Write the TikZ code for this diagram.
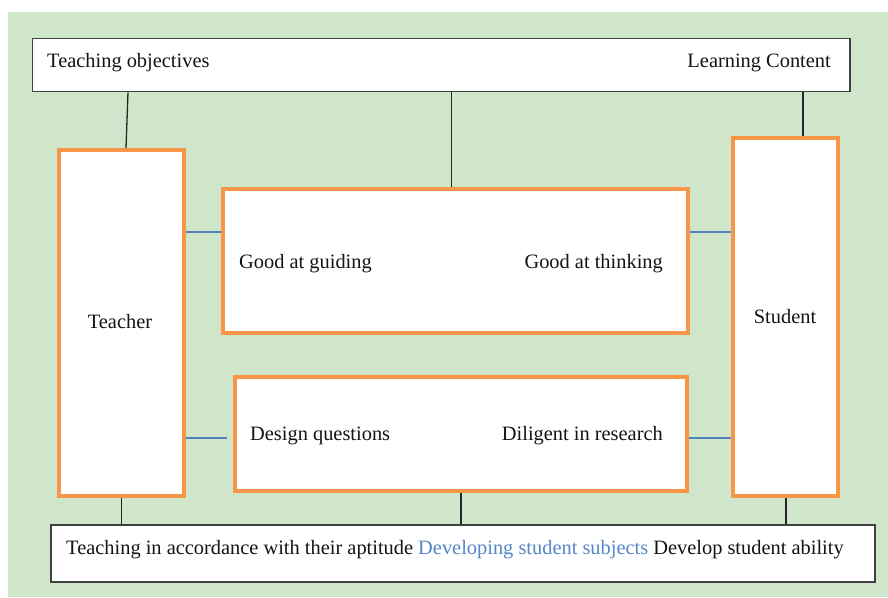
\documentclass[tikz,border=0pt]{standalone}
\usepackage{fontspec}
\setmainfont{Liberation Serif}
\definecolor{bgc}{RGB}{208,230,203}
\definecolor{orangec}{RGB}{247,150,70}
\definecolor{darkc}{RGB}{64,64,64}
\definecolor{bluec}{RGB}{79,129,189}
\definecolor{bluetext}{RGB}{84,134,200}
\definecolor{textc}{RGB}{20,20,20}
\tikzset{
  orangebox/.style={draw=orangec, line width=3.6pt, fill=white, inner sep=0pt, rectangle},
  darkbox/.style={draw=darkc, line width=1.8pt, fill=white, inner sep=0pt, rectangle},
  txt/.style={inner sep=0pt, text=textc, font=\fontsize{20.4}{24}\selectfont},
  link/.style={draw=black!85, line width=1.3pt},
  bluelink/.style={draw=bluec, line width=1.2pt},
}
\begin{document}
\begin{tikzpicture}[x=1pt,y=-1pt]
\useasboundingbox (0,0) rectangle (888,597);
\fill[bgc] (8,12) rectangle (888,597);
% boxes
\node[darkbox, minimum width=817.5pt, minimum height=53pt] (top) at (441.25,65) {};
\node[darkbox, minimum width=824pt, minimum height=57pt] (bottom) at (463,553.5) {};
\node[orangebox, minimum width=125pt, minimum height=346pt] (teacher) at (121.5,323) {};
\node[orangebox, minimum width=105pt, minimum height=358pt] (student) at (785.5,317) {};
\node[orangebox, minimum width=465pt, minimum height=144pt] (mid1) at (455.5,261) {};
\node[orangebox, minimum width=452pt, minimum height=114pt] (mid2) at (461,434) {};
% helper coordinates
\coordinate (r1) at (0,232);
\coordinate (r2) at (0,438);
\coordinate (c1) at (451.75,0);
% connectors
\draw[link] ([xshift=-313.25pt]top.south) -- ([xshift=4.5pt]teacher.north);
\draw[link] (top.south -| c1) -- (mid1.north -| c1);
\draw[link] ([xshift=361.75pt]top.south) -- ([xshift=17.5pt]student.north);
\draw[bluelink] (teacher.east |- r1) -- (mid1.west |- r1);
\draw[bluelink] (mid1.east |- r1) -- (student.west |- r1);
\draw[bluelink] (teacher.east |- r2) -- ([xshift=-6pt]mid2.west |- r2);
\draw[bluelink] (mid2.east |- r2) -- (student.west |- r2);
\draw[link] (teacher.south) -- (bottom.north -| teacher.south);
\draw[link] (mid2.south) -- (bottom.north -| mid2.south);
\draw[link] ([xshift=0.5pt]student.south) -- ([xshift=0.5pt]bottom.north -| student.south);
% texts
\node[txt, anchor=base west] (t1) at (47,67) {Teaching objectives};
\node[txt, anchor=base east] (t2) at (831,67) {Learning Content};
\node[txt, anchor=base] (t3) at (120,328) {Teacher};
\node[txt, anchor=base] (t4) at (785,323) {Student};
\node[txt, anchor=base west] (t5) at (239,268) {Good at guiding};
\node[txt, anchor=base east] (t6) at (663,268) {Good at thinking};
\node[txt, anchor=base west] (t7) at (250,440) {Design questions};
\node[txt, anchor=base east] (t8) at (663,440) {Diligent in research};
\node[txt, anchor=base west] (t9) at (66,554) {Teaching in accordance with their aptitude \textcolor{bluetext}{Developing student subjects} Develop student ability};
\end{tikzpicture}
\end{document}
